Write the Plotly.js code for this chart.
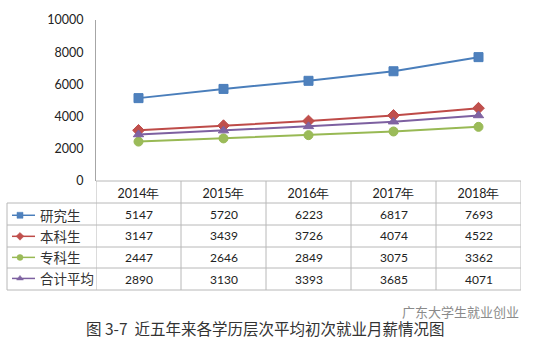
<!DOCTYPE html>
<html>
<head>
<meta charset="utf-8">
<script src="https://cdn.plot.ly/plotly-3.0.1.min.js"></script>
<style>html,body{margin:0;padding:0;background:#fff;}#chart{width:534px;height:345px;}</style>
</head>
<body>
<div id="chart"></div>
<script>
// ---- data ----
const years = ['2014年', '2015年', '2016年', '2017年', '2018年'];
const seriesNames = ['研究生', '本科生', '专科生', '合计平均'];
const graduate = [5147, 5720, 6223, 6817, 7693];
const undergraduate = [3147, 3439, 3726, 4074, 4522];
const juniorCollege = [2447, 2646, 2849, 3075, 3362];
const overallAverage = [2890, 3130, 3393, 3685, 4071];
const yTicks = [0, 2000, 4000, 6000, 8000, 10000];
const captionText = '图 3-7  近五年来各学历层次平均初次就业月薪情况图';
const watermarkText = '广东大学生就业创业';

// ---- styles ----
const seriesValues = [graduate, undergraduate, juniorCollege, overallAverage];
const lineColors = ['#4A7EBB', '#BE4B48', '#98B954', '#7D60A0'];
const markerColors = ['#4F81BD', '#C0504D', '#9BBB59', '#8064A2'];
const markerSymbols = ['square', 'diamond', 'circle', 'triangle-up'];
const markerSizes = [9, 9, 9, 9];

const W = 534, H = 345;
const L = 96, R = 13, T = 20, B = 164;
const pw = W - L - R, ph = H - T - B;
const px = X => (X - L) / pw;        // page pixel x -> paper
const py = Y => (H - B - Y) / ph;    // page pixel y -> paper

const traces = [];
seriesNames.forEach((name, i) => {
  traces.push({
    type: 'scatter', mode: 'lines+markers', name: name,
    x: years, y: seriesValues[i], showlegend: false,
    line: {color: lineColors[i], width: 2},
    marker: {color: markerColors[i], symbol: markerSymbols[i], size: markerSizes[i],
             line: {color: lineColors[i], width: 1}}
  });
});
// legend keys (no data, legend entries only, smaller markers as in the data table)
seriesNames.forEach((name, i) => {
  traces.push({
    type: 'scatter', mode: 'lines+markers', name: name,
    x: [null], y: [null], legendgroup: 'g' + i, showlegend: true,
    line: {color: lineColors[i], width: 1.5},
    marker: {color: markerColors[i], symbol: markerSymbols[i], size: 6,
             line: {color: lineColors[i], width: 0.5}}
  });
});

// table geometry (pixels)
const rowLines = [181, 203, 225, 247, 268, 290];
const tableLeft = 7;
const gridColor = '#B8B8B8';
const shapes = [];
rowLines.forEach((y, k) => {
  shapes.push({type: 'line', xref: 'paper', yref: 'paper',
    x0: k === 0 ? 0 : px(tableLeft), x1: 1, y0: py(y), y1: py(y),
    line: {color: gridColor, width: 1}});
});
for (let c = 0; c <= years.length; c++) {
  shapes.push({type: 'line', xref: 'x', yref: 'paper',
    x0: c - 0.5, x1: c - 0.5, y0: py(181), y1: py(290),
    line: {color: gridColor, width: 1}});
}
shapes.push({type: 'line', xref: 'paper', yref: 'paper',
  x0: px(tableLeft), x1: px(tableLeft), y0: py(203), y1: py(290),
  line: {color: gridColor, width: 1}});

const rowCenters = [214, 236, 257.5, 279];
const annotations = [];
seriesValues.forEach((vals, i) => {
  vals.forEach((v, j) => {
    annotations.push({xref: 'x', yref: 'paper', x: years[j], y: py(rowCenters[i]),
      text: String(v), showarrow: false, xanchor: 'center', yanchor: 'middle',
      font: {family: 'Lato, "Liberation Sans", sans-serif', size: 12, color: '#222'}});
  });
});
annotations.push({xref: 'paper', yref: 'paper', x: px(447), y: py(328), text: captionText,
  showarrow: false, xanchor: 'right', yanchor: 'middle',
  font: {family: '"Noto Sans CJK SC", sans-serif', size: 15.5, color: '#333'}});
annotations.push({xref: 'paper', yref: 'paper', x: px(400), y: py(311), text: watermarkText,
  showarrow: false, xanchor: 'left', yanchor: 'middle',
  font: {family: '"Noto Sans CJK SC", sans-serif', size: 13, color: '#8a8a8a'}});

const layout = {
  width: W, height: H,
  margin: {l: L, r: R, t: T, b: B, pad: 0, autoexpand: false},
  paper_bgcolor: '#fff', plot_bgcolor: '#fff',
  showlegend: true,
  legend: {x: px(12), y: py(200), xanchor: 'left', yanchor: 'top',
    traceorder: 'grouped', tracegroupgap: 0.5, itemwidth: 30, indentation: -12,
    bgcolor: 'rgba(0,0,0,0)', borderwidth: 0,
    font: {family: '"Noto Sans CJK SC", sans-serif', size: 13.5, color: '#333'}},
  xaxis: {type: 'category', range: [-0.5, years.length - 0.5], fixedrange: true,
    showgrid: false, zeroline: false, showline: false, ticks: '',
    ticklabelstandoff: 3,
    tickfont: {family: 'Lato, "Liberation Sans", sans-serif', size: 12.5, color: '#222'}},
  yaxis: {range: [0, 10000], tickvals: yTicks, ticktext: yTicks.map(String),
    showgrid: false, zeroline: false, showline: true, linecolor: '#A6A6A6', linewidth: 1,
    ticks: 'outside', ticklen: 9, tickcolor: 'rgba(0,0,0,0)', fixedrange: true,
    tickfont: {family: 'Lato, "Liberation Sans", sans-serif', size: 12.5, color: '#222'}},
  shapes: shapes,
  annotations: annotations
};

Plotly.newPlot('chart', traces, layout, {displayModeBar: false, staticPlot: true});
</script>
</body>
</html>
